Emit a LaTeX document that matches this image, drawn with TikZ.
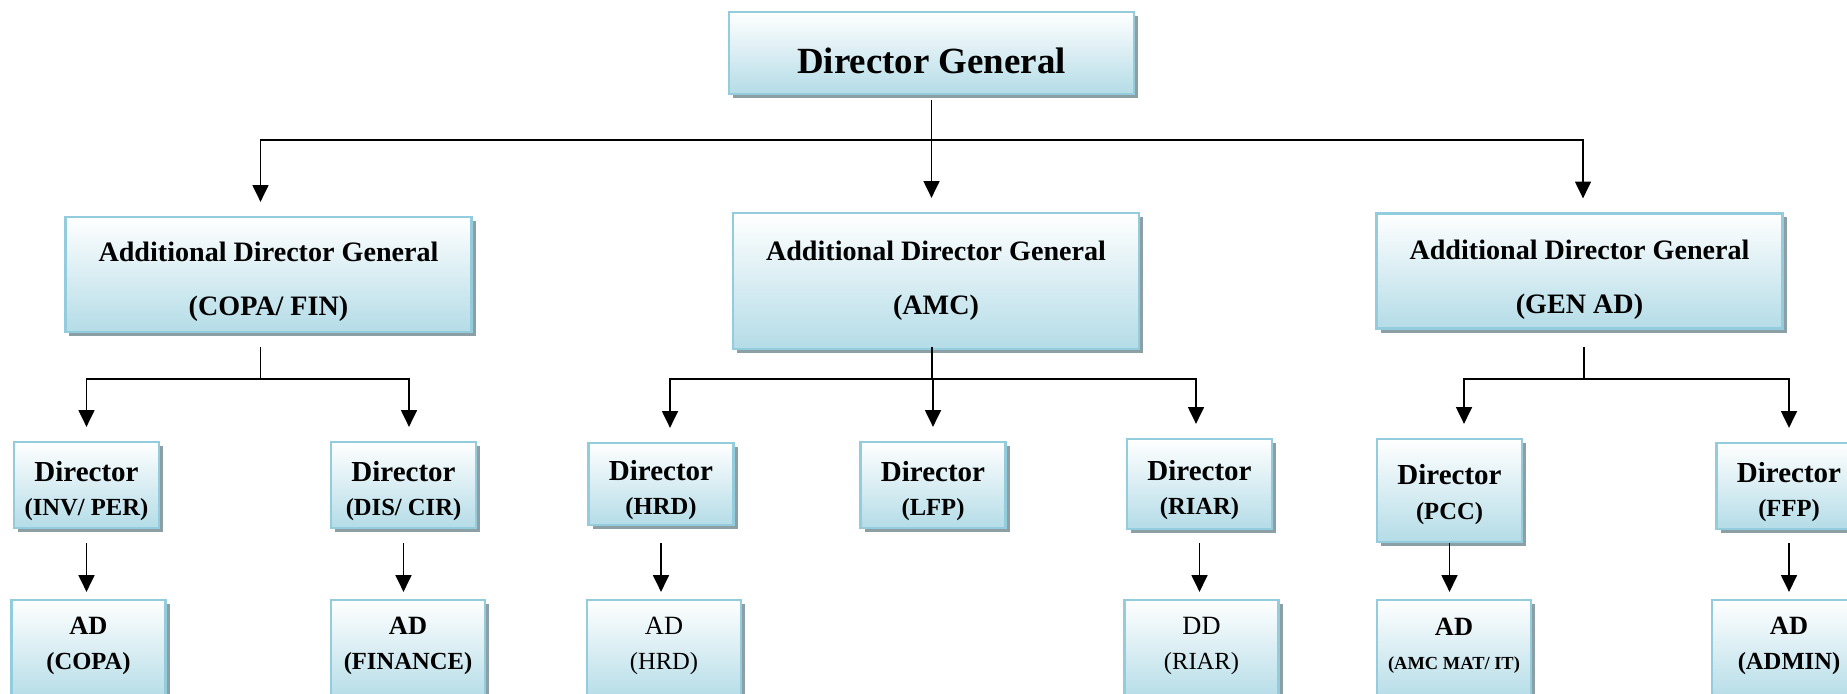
\documentclass[tikz,border=0pt]{standalone}
\usepackage{fontspec}
\setmainfont{Liberation Serif}
\usetikzlibrary{arrows.meta}
\usetikzlibrary{shadows}
\definecolor{boxline}{HTML}{93CDDD}
\definecolor{boxfill}{HTML}{B4DCE7}
\definecolor{shadowgray}{HTML}{8C9FA5}
\newcommand{\subline}[1]{{\fontsize{14}{19.5}\selectfont #1}}

\begin{document}
\begin{tikzpicture}[x=0.2mm,y=-0.2mm]
  \tikzstyle{post}=[draw=boxline,line width=1.2pt,top color=white,middle color=boxfill!45!white,bottom color=boxfill,
    drop shadow={shadow xshift=0.8mm,shadow yshift=-0.8mm,fill=shadowgray,opacity=1},inner sep=0pt]
  \tikzstyle{every label}=[align=center,inner sep=0pt]
  \tikzstyle{topbox}=[post,minimum width=81mm,minimum height=16.4mm]
  \tikzstyle{adgbox}=[post,minimum width=81.2mm,minimum height=23mm]
  \tikzstyle{dirbox}=[post,minimum width=29mm,minimum height=17.2mm]
  \tikzstyle{adbox}=[post,minimum width=30.8mm,minimum height=20mm]
  \tikzstyle{dgtext}=[font=\fontsize{21}{25}\selectfont\bfseries,yshift=-1.6mm]
  \tikzstyle{adgtext}=[font=\fontsize{16}{31}\selectfont\bfseries]
  \tikzstyle{dirtext}=[font=\fontsize{16.5}{19.5}\selectfont\bfseries,yshift=-1.2mm]
  \tikzstyle{adtext}=[font=\fontsize{15}{19.5}\selectfont\bfseries,yshift=0.8mm]
  \tikzstyle{wire}=[line width=1pt]
  \tikzstyle{arrow}=[wire,-{Triangle[length=9.5pt,width=9pt]},shorten >=8pt]

  \useasboundingbox (0,0) rectangle (1847,694);
  \clip (0,0) rectangle (1847,694);

  % TOP
  \node[topbox,label={[dgtext]center:Director General}] (dg) at (931.5,53) {};

  % ADDITIONAL DG
  \node[adgbox,label={[adgtext,yshift=-1.4mm]center:Additional Director General\\(COPA/ FIN)}] (adgcopa) at (268.5,274.5) {};
  \node[adgbox,minimum height=27.2mm,label={[adgtext]center:Additional Director General\\(AMC)}] (adgamc) at (936,281) {};
  \node[adgbox,label={[adgtext,yshift=-1.8mm]center:Additional Director General\\(GEN AD)}] (adggen) at (1579.5,271) {};

  % DIRECTORS
  \node[dirbox,label={[dirtext]center:Director\\\subline{(INV/ PER)}}] (dinv) at (86.5,485) {};
  \node[dirbox,label={[dirtext]center:Director\\\subline{(DIS/ CIR)}}] (ddis) at (403.5,485) {};
  \node[dirbox,minimum height=16.4mm,label={[dirtext]center:Director\\\subline{(HRD)}}] (dhrd) at (661,484) {};
  \node[dirbox,label={[dirtext]center:Director\\\subline{(LFP)}}] (dlfp) at (933,485) {};
  \node[dirbox,minimum height=18mm,label={[dirtext]center:Director\\\subline{(RIAR)}}] (driar) at (1199.5,484) {};
  \node[dirbox,minimum height=20.6mm,label={[dirtext,yshift=0.4mm]center:Director\\\subline{(PCC)}}] (dpcc) at (1449.5,490.5) {};
  \node[dirbox,label={[dirtext]center:Director\\\subline{(FFP)}}] (dffp) at (1789,486) {};

  % AD / DD
  \node[adbox,label={[adtext]center:AD\\\subline{(COPA)}}] (adcopa) at (88.5,650) {};
  \node[adbox,label={[adtext]center:AD\\\subline{(FINANCE)}}] (adfin) at (408,650) {};
  \node[adbox,label={[adtext,font=\fontsize{15}{19.5}\selectfont]center:AD\\\subline{(HRD)}}] (adhrd) at (664,650) {};
  \node[adbox,label={[adtext,font=\fontsize{15}{19.5}\selectfont]center:DD\\\subline{(RIAR)}}] (ddriar) at (1201.5,650) {};
  \node[adbox,label={[adtext]center:AD\\{\fontsize{10.5}{19.5}\selectfont (AMC MAT/ IT)}}] (adamc) at (1454,650) {};
  \node[adbox,label={[adtext]center:AD\\\subline{(ADMIN)}}] (adadmin) at (1789,650) {};

  % CONNECTORS
  \coordinate (stubA) at (0,100);
  \coordinate (busA) at (0,140);
  \draw[wire] (dg.south |- stubA) -- (dg.south |- busA);
  \draw[arrow] (dg.south |- busA) -| ([xshift=-1.6mm]adgcopa.north);
  \draw[arrow] (dg.south |- busA) -- (dg.south |- adgamc.north);
  \draw[arrow] (dg.south |- busA) -| ([xshift=0.7mm]adggen.north);

  \coordinate (stubB) at (0,347);
  \coordinate (busB) at (0,379);
  \draw[wire] ([xshift=-1.6mm]adgcopa.south |- stubB) -- ([xshift=-1.6mm]adgcopa.south |- busB)
    coordinate (forkcopa);
  \draw[arrow] (forkcopa) -| (dinv.north);
  \draw[arrow] (forkcopa) -| ([xshift=1.1mm]ddis.north);
  \draw[wire] ([xshift=-0.8mm]adgamc.south |- stubB) -- ([xshift=-0.8mm]adgamc.south |- busB)
    coordinate (forkamc);
  \draw[arrow] (forkamc) -| ([xshift=1.8mm]dhrd.north);
  \draw[arrow] (forkamc) -| (dlfp.north);
  \draw[arrow] (forkamc) -| ([xshift=-0.7mm]driar.north);
  \draw[wire] ([xshift=0.9mm]adggen.south |- stubB) -- ([xshift=0.9mm]adggen.south |- busB)
    coordinate (forkgen);
  \draw[arrow] (forkgen) -| ([xshift=2.9mm]dpcc.north);
  \draw[arrow] (forkgen) -| (dffp.north);

  \coordinate (stubC) at (0,543);
  \foreach \up/\down in {dinv/adcopa,ddis/adfin,dhrd/adhrd,driar/ddriar,dpcc/adamc,dffp/adadmin}{
      \draw[arrow,shorten >=4pt] (\up.south |- stubC) -- (\up.south |- \down.north);
    }
\end{tikzpicture}
\end{document}
